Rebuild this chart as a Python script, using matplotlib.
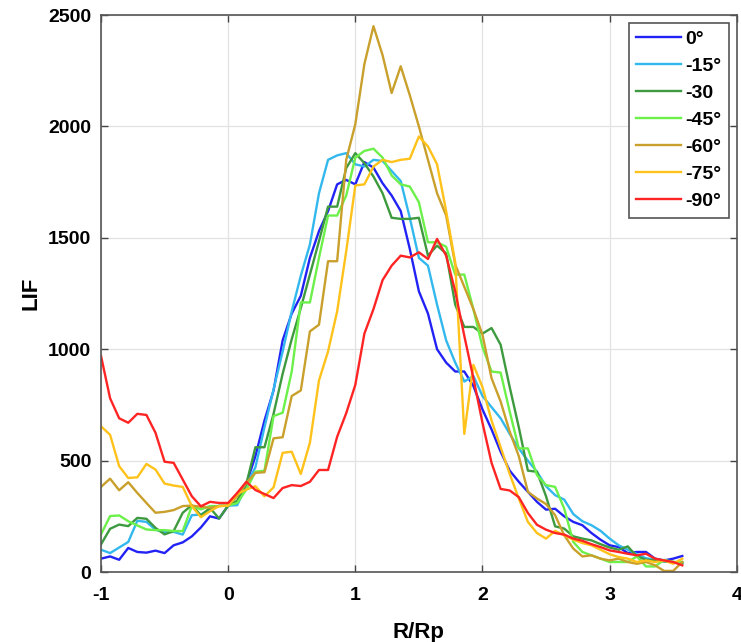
import numpy as np
import matplotlib
matplotlib.use('Agg')
import matplotlib.pyplot as plt

plt.rcParams['font.family'] = ['Liberation Sans', 'DejaVu Sans']
plt.rcParams['axes.unicode_minus'] = False

# R/Rp sampled every 1/14 from -1 to ~3.57
r = -1 + np.arange(65) / 14

lif_0 = [60, 70, 55, 108, 90, 87, 96, 85, 120, 133, 160, 200, 250, 240, 298,
         315, 395, 520, 680, 815, 1040, 1160, 1240, 1410, 1530, 1620, 1740, 1760, 1740,
         1840, 1815, 1745, 1690, 1620, 1450, 1260, 1160, 1000, 940, 900, 900, 835,
         730, 640, 540, 455, 405, 360, 315, 280, 284, 250, 225, 210, 175, 145, 120,
         112, 85, 90, 90, 60, 52, 60, 72]
lif_15 = [100, 85, 110, 135, 230, 225, 190, 178, 180, 168, 255, 258, 280, 298, 298,
          300, 390, 470, 650, 820, 990, 1170, 1330, 1470, 1700, 1850, 1870, 1880, 1830,
          1820, 1850, 1845, 1800, 1755, 1590, 1410, 1375, 1200, 1040, 940, 855, 880,
          790, 740, 690, 620, 555, 500, 450, 385, 345, 325, 260, 228, 210, 185, 150,
          120, 100, 80, 62, 55, 48, 45, 40]
lif_30 = [124, 194, 213, 206, 243, 239, 198, 169, 184, 266, 300, 254, 288, 240, 298,
          320, 395, 560, 560, 710, 890, 1045, 1185, 1335, 1485, 1640, 1640, 1813, 1880,
          1835, 1775, 1700, 1590, 1585, 1585, 1590, 1420, 1465, 1430, 1200, 1100, 1100,
          1070, 1095, 1020, 830, 650, 455, 450, 340, 205, 195, 160, 150, 142, 125, 110,
          100, 115, 70, 55, 52, 48, 45, 40]
lif_45 = [169, 251, 254, 228, 209, 191, 188, 188, 184, 184, 296, 281, 296, 296, 298,
          310, 370, 450, 455, 700, 715, 900, 1210, 1210, 1410, 1600, 1600, 1690, 1860,
          1890, 1900, 1860, 1780, 1740, 1730, 1660, 1480, 1480, 1460, 1335, 1335, 1180,
          1010, 900, 895, 720, 555, 555, 435, 390, 382, 285, 135, 90, 75, 60, 45,
          45, 45, 70, 25, 25, 55, 45, 45]
lif_60 = [382, 419, 367, 403, 355, 310, 266, 270, 278, 296, 298, 293, 288, 296, 298,
          340, 400, 445, 448, 600, 605, 790, 815, 1080, 1110, 1395, 1395, 1850, 2010,
          2280, 2450, 2320, 2150, 2270, 2140, 2000, 1850, 1700, 1600, 1380, 1280, 1180,
          1065, 870, 765, 630, 520, 360, 330, 305, 255, 165, 105, 70, 75, 60, 52,
          60, 45, 37, 45, 30, 5, 5, 45]
lif_75 = [654, 616, 475, 422, 425, 485, 460, 397, 388, 382, 296, 246, 273, 296, 298,
          350, 370, 385, 340, 380, 535, 540, 440, 580, 860, 990, 1170, 1440, 1735,
          1740, 1820, 1850, 1840, 1850, 1855, 1955, 1910, 1830, 1620, 1390, 620, 930,
          830, 680, 560, 440, 330, 225, 175, 150, 185, 165, 145, 130, 120, 100, 80,
          67, 60, 45, 52, 45, 52, 37, 60]
lif_90 = [970, 780, 690, 670, 710, 705, 625, 495, 490, 415, 340, 295, 315, 310, 310,
          355, 405, 368, 350, 332, 377, 390, 386, 405, 458, 458, 607, 713, 840,
          1070, 1180, 1310, 1375, 1420, 1412, 1435, 1405, 1495, 1420, 1260, 1060, 870,
          670, 490, 373, 366, 336, 265, 212, 190, 175, 168, 150, 140, 125, 112, 97,
          90, 82, 75, 82, 60, 52, 45, 30]

series = [lif_0, lif_15, lif_30, lif_45, lif_60, lif_75, lif_90]
labels = ['0°', '-15°', '-30', '-45°', '-60°', '-75°', '-90°']
colors = ['#2222F5', '#33B8EE', '#3E9A3E', '#6CF04A', '#C9A02C', '#FFC21A', '#FF2424']

fig = plt.figure(figsize=(7.41, 6.42), dpi=100)
ax = fig.add_axes([0.1363, 0.109, 0.858, 0.8676])

for y, lab, c in zip(series, labels, colors):
    ax.plot(r, y, color=c, lw=1.7, label=lab)

ax.set_xlim(-1, 4)
ax.set_ylim(0, 2500)
ax.set_xticks(range(-1, 5))
ax.set_yticks(range(0, 2501, 500))
ax.grid(True, color='#E2E2E2', lw=0.9)
ax.set_axisbelow(True)
ax.tick_params(direction='in', top=True, right=True, length=5, width=1,
               labelsize=14, color='#444444')
ax.tick_params(axis='x', pad=11)
ax.tick_params(axis='y', pad=7)
for lbl in ax.get_xticklabels() + ax.get_yticklabels():
    lbl.set_fontweight('bold')
for s in ax.spines.values():
    s.set_color('#555555')
    s.set_linewidth(1.2)

ax.set_xlabel('R/Rp', fontsize=16, fontweight='bold', labelpad=13)
ax.set_ylabel('LIF', fontsize=16, fontweight='bold', labelpad=5)

leg = ax.legend(loc='upper right', prop={'size': 14, 'weight': 'bold'},
                fancybox=False, edgecolor='#555555', framealpha=1,
                handlelength=2.3, handletextpad=0.2, labelspacing=0.48,
                borderaxespad=0.4)
leg.get_frame().set_linewidth(1.2)

fig.savefig('out.png', dpi=100)
